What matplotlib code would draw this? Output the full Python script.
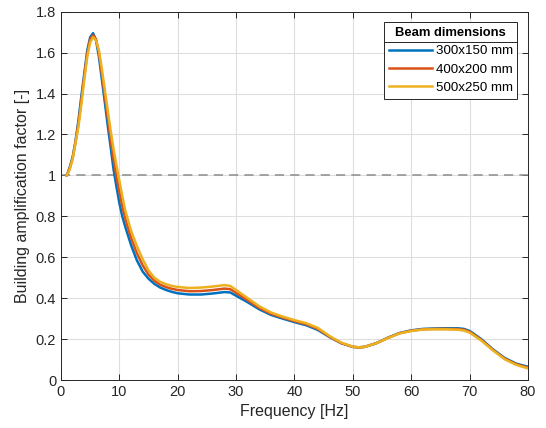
import matplotlib
matplotlib.use('Agg')
import matplotlib.pyplot as plt
from matplotlib.ticker import FormatStrFormatter
from matplotlib.lines import Line2D

plt.rcParams['font.family'] = ['Liberation Sans', 'DejaVu Sans']

freq = [1, 1.5, 2, 2.5, 3, 3.5, 4, 4.5, 5, 5.5, 6, 6.5, 7, 7.5, 8, 8.5, 9, 9.5,
        10, 10.5, 11, 12, 13, 14, 15, 16, 17, 18, 19, 20, 22, 24, 26, 28, 29, 30,
        32, 34, 36, 38, 40, 42, 44, 46, 48, 50, 51, 52, 54, 56, 58, 60, 62, 64,
        66, 68, 69, 70, 72, 74, 76, 78, 80]

amp_300 = [1.0, 1.04, 1.09, 1.17, 1.27, 1.39, 1.50, 1.61, 1.675, 1.695, 1.66, 1.58, 1.47, 1.36, 1.245, 1.14, 1.03, 0.945,
           0.865, 0.80, 0.75, 0.66, 0.585, 0.53, 0.495, 0.47, 0.452, 0.440, 0.431, 0.424, 0.418, 0.418, 0.423, 0.430, 0.428, 0.412,
           0.380, 0.345, 0.318, 0.300, 0.283, 0.268, 0.245, 0.210, 0.180, 0.162, 0.160, 0.162, 0.180, 0.207, 0.230, 0.243, 0.250, 0.252,
           0.253, 0.253, 0.250, 0.240, 0.200, 0.150, 0.108, 0.080, 0.065]

amp_400 = [1.0, 1.035, 1.085, 1.165, 1.255, 1.37, 1.485, 1.595, 1.665, 1.685, 1.665, 1.60, 1.495, 1.39, 1.285, 1.18, 1.08, 0.995,
           0.92, 0.85, 0.79, 0.695, 0.62, 0.56, 0.515, 0.485, 0.466, 0.454, 0.446, 0.440, 0.434, 0.435, 0.440, 0.447, 0.444, 0.426,
           0.390, 0.352, 0.324, 0.305, 0.288, 0.273, 0.250, 0.212, 0.181, 0.162, 0.160, 0.162, 0.180, 0.206, 0.229, 0.241, 0.248, 0.250,
           0.250, 0.249, 0.246, 0.236, 0.196, 0.147, 0.105, 0.077, 0.061]

amp_500 = [1.0, 1.03, 1.08, 1.16, 1.24, 1.35, 1.47, 1.58, 1.65, 1.675, 1.66, 1.61, 1.52, 1.42, 1.32, 1.22, 1.13, 1.05,
           0.975, 0.90, 0.83, 0.73, 0.655, 0.59, 0.535, 0.50, 0.480, 0.468, 0.460, 0.455, 0.450, 0.452, 0.457, 0.464, 0.460, 0.440,
           0.400, 0.360, 0.330, 0.310, 0.293, 0.278, 0.255, 0.215, 0.183, 0.163, 0.160, 0.162, 0.180, 0.205, 0.228, 0.240, 0.247, 0.248,
           0.248, 0.246, 0.242, 0.232, 0.193, 0.145, 0.102, 0.074, 0.057]

series = [('300x150 mm', amp_300, '#0072BD'),
          ('400x200 mm', amp_400, '#D95319'),
          ('500x250 mm', amp_500, '#EDB120')]

fig = plt.figure(figsize=(5.46, 4.28), dpi=100)
ax = fig.add_axes([0.1117, 0.112, 0.8553, 0.8607])

for name, vals, col in series:
    ax.plot(freq, vals, color=col, linewidth=1.8, label=name)

ax.axhline(1.0, color='#8c8c8c', linestyle=(0, (6, 4)), linewidth=1.1, zorder=1)

ax.set_xlim(0, 80)
ax.set_ylim(0, 1.8)
ax.set_xticks(range(0, 81, 10))
ax.set_yticks([0, 0.2, 0.4, 0.6, 0.8, 1.0, 1.2, 1.4, 1.6, 1.8])
ax.yaxis.set_major_formatter(FormatStrFormatter('%g'))
ax.grid(True, color='#dedede', linewidth=0.8)
ax.set_axisbelow(True)
ax.tick_params(direction='in', top=True, right=True, length=4, width=0.7,
               colors='#262626', labelsize=10.5)
for s in ax.spines.values():
    s.set_color('#262626')
    s.set_linewidth(0.7)

ax.set_xlabel('Frequency [Hz]', fontsize=11.5, color='#262626')
ax.set_ylabel('Building amplification factor [-]', fontsize=11.5, color='#262626')

leg = ax.legend(title='Beam dimensions', loc='upper right', fancybox=False,
                edgecolor='#262626', framealpha=1, fontsize=9.6,
                handlelength=3.2, handletextpad=0.3, borderaxespad=0.8,
                labelspacing=0.45, borderpad=0.35)
leg.get_title().set_fontweight('bold')
leg.get_title().set_fontsize(9.4)
leg.get_frame().set_linewidth(0.7)

# separator line under the legend title
fig.canvas.draw()
r = fig.canvas.get_renderer()
fb = leg.get_frame().get_window_extent(r)
tb = leg.get_title().get_window_extent(r)
eb = leg.get_texts()[0].get_window_extent(r)
ysep = (tb.y0 + eb.y1) / 2
inv = fig.transFigure.inverted()
x0, y0 = inv.transform((fb.x0, ysep))
x1, _ = inv.transform((fb.x1, ysep))
fig.add_artist(Line2D([x0, x1], [y0, y0], color='#262626', linewidth=0.7))

fig.savefig('out.png', dpi=100)
